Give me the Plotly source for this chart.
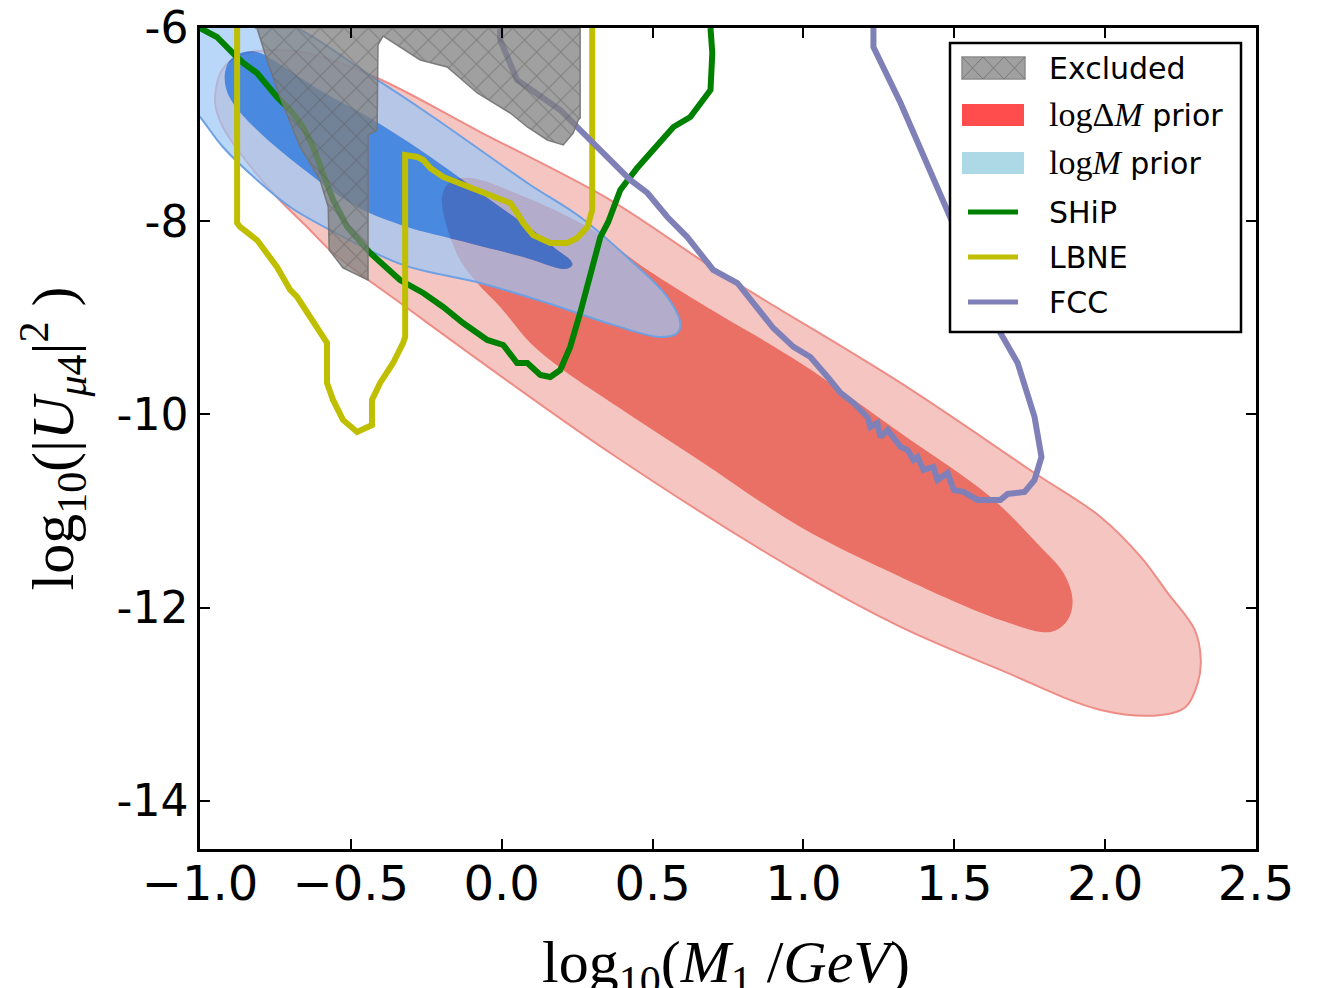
import plotly.graph_objects as go

# ---------------- data ----------------
# log(Delta M) prior, outer (95%) contour
red_outer_x = [-0.950, -0.927, -0.867, -0.758, -0.645, -0.413, -0.071, 0.360, 0.725, 1.322,
               1.766, 1.985, 2.118, 2.207, 2.297, 2.317, 2.307, 2.267, 2.187, 1.985, 1.653,
               1.322, 0.990, 0.360, -0.327, -0.559, -0.645, -0.758, -0.867, -0.924]
red_outer_y = [-6.776, -6.435, -6.280, -6.228, -6.259, -6.518, -7.077, -7.781, -8.536, -9.675,
               -10.607, -11.062, -11.476, -11.849, -12.232, -12.542, -12.780, -13.029, -13.112, -13.060, -12.646,
               -12.201, -11.642, -10.400, -8.868, -8.329, -8.060, -7.708, -7.294, -7.025]

# log(Delta M) prior, inner (68%) contour
red_inner_x = [-0.197, -0.171, -0.104, 0.061, 0.303, 0.459, 0.658, 0.990, 1.322, 1.620,
               1.786, 1.862, 1.892, 1.876, 1.819, 1.653, 1.322, 0.990, 0.658, 0.350,
               0.204, 0.095, -0.005, -0.081, -0.138, -0.171, -0.194]
red_inner_y = [-7.729, -7.594, -7.553, -7.729, -8.091, -8.453, -8.847, -9.468, -10.193, -10.855,
               -11.373, -11.642, -11.921, -12.128, -12.253, -12.128, -11.683, -11.166, -10.482, -9.851,
               -9.540, -9.261, -8.888, -8.640, -8.402, -8.164, -7.905]

# log(M) prior, outer contour (runs past the left / top edges of the frame)
blue_outer_x = [-1.100, -0.768, -0.413, -0.237, -0.071, 0.095, 0.260, 0.426, 0.549, 0.592,
                0.582, 0.526, 0.370, 0.151, -0.071, -0.327, -0.569, -0.701, -0.811, -0.924,
                -1.000, -1.050, -1.100]
blue_outer_y = [-5.800, -5.876, -6.538, -6.901, -7.263, -7.625, -7.957, -8.402, -8.785, -9.054,
                -9.157, -9.199, -9.074, -8.847, -8.640, -8.453, -8.091, -7.853, -7.573, -7.232,
                -6.921, -6.745, -6.600]

# log(M) prior, inner contour
blue_inner_x = [-0.917, -0.900, -0.867, -0.811, -0.758, -0.592, -0.436, -0.260, -0.038, 0.128,
                0.184, 0.227, 0.234, 0.211, 0.071, -0.148, -0.313, -0.479, -0.645, -0.811,
                -0.891, -0.914]
blue_inner_y = [-6.455, -6.331, -6.259, -6.248, -6.331, -6.663, -6.932, -7.284, -7.781, -8.153,
                -8.298, -8.402, -8.453, -8.495, -8.371, -8.195, -8.060, -7.853, -7.491, -7.056,
                -6.776, -6.621]

# excluded region
excl_x = [-0.818, 0.260, 0.260, 0.254, 0.237, 0.204, 0.151, 0.085, 0.028, -0.081,
          -0.181, -0.270, -0.393, -0.410, -0.413, -0.443, -0.443, -0.493, -0.526, -0.546,
          -0.572, -0.575, -0.602, -0.668, -0.735, -0.778, -0.811]
excl_y = [-6.000, -6.000, -6.932, -6.952, -7.087, -7.211, -7.159, -7.025, -6.880, -6.673,
          -6.404, -6.331, -6.083, -6.176, -7.056, -7.108, -8.609, -8.536, -8.484, -8.402,
          -8.298, -7.853, -7.573, -7.232, -6.714, -6.331, -6.000]

# SHiP sensitivity
ship_x = [-1.000, -0.944, -0.891, -0.857, -0.811, -0.745, -0.701, -0.658, -0.625, -0.592,
          -0.559, -0.512, -0.436, -0.337, -0.260, -0.194, -0.128, -0.048, 0.005, 0.051,
          0.085, 0.128, 0.161, 0.194, 0.227, 0.260, 0.294, 0.327, 0.353, 0.393,
          0.449, 0.509, 0.569, 0.625, 0.692, 0.698, 0.692]
ship_y = [-6.000, -6.093, -6.259, -6.362, -6.466, -6.714, -6.849, -7.025, -7.232, -7.501,
          -7.781, -8.060, -8.329, -8.609, -8.743, -8.888, -9.054, -9.230, -9.282, -9.468,
          -9.468, -9.592, -9.613, -9.540, -9.302, -8.950, -8.578, -8.164, -8.008, -7.677,
          -7.449, -7.242, -7.025, -6.921, -6.642, -6.259, -6.000]

# LBNE sensitivity
lbne_x = [-0.877, -0.877, -0.867, -0.811, -0.745, -0.701, -0.678, -0.645, -0.592, -0.579,
          -0.579, -0.559, -0.526, -0.479, -0.430, -0.430, -0.403, -0.360, -0.327, -0.320,
          -0.320, -0.280, -0.260, -0.237, -0.194, -0.128, -0.038, 0.028, 0.051, 0.071,
          0.104, 0.161, 0.217, 0.250, 0.284, 0.300, 0.300]
lbne_y = [-6.000, -8.019, -8.060, -8.195, -8.474, -8.712, -8.785, -8.950, -9.199, -9.261,
          -9.675, -9.851, -10.058, -10.182, -10.110, -9.851, -9.675, -9.468, -9.261, -9.199,
          -7.315, -7.335, -7.366, -7.449, -7.542, -7.625, -7.729, -7.812, -7.915, -8.019,
          -8.143, -8.226, -8.226, -8.174, -8.060, -7.884, -6.000]

# FCC sensitivity
fcc_x = [-0.005, -0.005, 0.051, 0.128, 0.194, 0.260, 0.303, 0.350, 0.426, 0.483,
         0.549, 0.615, 0.701, 0.781, 0.834, 0.900, 0.967, 1.023, 1.080, 1.123,
         1.166, 1.212, 1.222, 1.245, 1.255, 1.279, 1.322, 1.345, 1.365, 1.378,
         1.398, 1.431, 1.444, 1.478, 1.498, 1.531, 1.577, 1.653, 1.677, 1.733,
         1.766, 1.789, 1.766, 1.710, 1.653, 1.570, 1.478, 1.355, 1.322, 1.232, 1.232]
fcc_y = [-6.000, -6.124, -6.538, -6.714, -6.849, -7.056, -7.190, -7.335, -7.573, -7.708,
         -7.957, -8.164, -8.505, -8.640, -8.847, -9.106, -9.302, -9.406, -9.613, -9.778,
         -9.882, -10.027, -10.130, -10.089, -10.234, -10.161, -10.337, -10.369, -10.472, -10.441,
         -10.576, -10.545, -10.679, -10.607, -10.783, -10.803, -10.886, -10.886, -10.824, -10.803,
         -10.679, -10.441, -10.027, -9.468, -9.157, -8.557, -7.915, -7.025, -6.776, -6.197, -6.000]

x_ticks = [-1.0, -0.5, 0.0, 0.5, 1.0, 1.5, 2.0, 2.5]
x_ticklabels = ["\u22121.0", "\u22120.5", "0.0", "0.5", "1.0", "1.5", "2.0", "2.5"]
y_ticks = [-6, -8, -10, -12, -14]
y_ticklabels = ["-6", "-8", "-10", "-12", "-14"]

x_title = "log<sub>10</sub>(<i>M</i><sub>1</sub> /<i>GeV</i>)"
y_title = "log<sub>10</sub>(|<i>U</i><sub><i>\u03bc</i>4</sub>|<sup>2</sup> )"

SERIF_SPAN = '<span style="font-family:Liberation Serif;font-size:34px">'
legend_labels = ["Excluded",
                 SERIF_SPAN + 'log\u0394<i>M</i></span> prior',
                 SERIF_SPAN + 'log<i>M</i></span> prior',
                 "SHiP", "LBNE", "FCC"]

# ---------------- styles ----------------
RED_LIGHT = "rgb(245,198,193)"
RED_EDGE = "rgb(238,140,134)"
RED_DARK = "rgb(234,112,101)"
BLUE_LIGHT = "rgba(155,198,245,0.7)"
BLUE_EDGE = "rgb(110,160,228)"
BLUE_DARK = "rgba(0,112,237,0.7)"
GREEN = "rgb(0,128,0)"
YELLOW = "rgb(191,191,0)"
FCC_C = "rgb(128,128,184)"
SMOOTH = dict(shape="spline", smoothing=1.0)

fig = go.Figure()

def closed(v):
    return list(v) + [v[0]]

# red contours
fig.add_trace(go.Scatter(x=closed(red_outer_x), y=closed(red_outer_y), mode="lines",
                         fill="toself", fillcolor=RED_LIGHT,
                         line=dict(color=RED_EDGE, width=2, **SMOOTH), hoverinfo="skip"))
fig.add_trace(go.Scatter(x=closed(red_inner_x), y=closed(red_inner_y), mode="lines",
                         fill="toself", fillcolor=RED_DARK,
                         line=dict(width=0, color=RED_DARK, **SMOOTH), hoverinfo="skip"))
# blue outer band (outer loop with inner loop as a hole)
fig.add_trace(go.Scatter(x=blue_outer_x + [None] + closed(blue_inner_x)[::-1],
                         y=blue_outer_y + [None] + closed(blue_inner_y)[::-1],
                         mode="lines", fill="toself", fillcolor=BLUE_LIGHT,
                         line=dict(width=0, color="rgba(0,0,0,0)", **SMOOTH),
                         connectgaps=False, hoverinfo="skip"))
fig.add_trace(go.Scatter(x=closed(blue_inner_x), y=closed(blue_inner_y), mode="lines",
                         fill="toself", fillcolor=BLUE_DARK,
                         line=dict(width=0, color="rgba(0,0,0,0)", **SMOOTH), hoverinfo="skip"))
fig.add_trace(go.Scatter(x=closed(blue_outer_x), y=closed(blue_outer_y), mode="lines",
                         line=dict(color=BLUE_EDGE, width=2, **SMOOTH), hoverinfo="skip"))

# sensitivity curves
fig.add_trace(go.Scatter(x=ship_x, y=ship_y, mode="lines",
                         line=dict(color=GREEN, width=6), hoverinfo="skip"))
fig.add_trace(go.Scatter(x=lbne_x, y=lbne_y, mode="lines",
                         line=dict(color=YELLOW, width=6), hoverinfo="skip"))
fig.add_trace(go.Scatter(x=fcc_x, y=fcc_y, mode="lines",
                         line=dict(color=FCC_C, width=6), hoverinfo="skip"))

# excluded region (hatched, semi-transparent)
fig.add_trace(go.Scatter(x=closed(excl_x), y=closed(excl_y), mode="lines",
                         fill="toself", fillcolor="rgba(128,128,128,0.75)",
                         fillpattern=dict(shape="x", size=17, solidity=0.12,
                                          fgcolor="rgba(85,85,85,0.9)",
                                          bgcolor="rgba(128,128,128,0.75)"),
                         line=dict(color="rgba(115,115,115,0.9)", width=1.5),
                         hoverinfo="skip"))

# ---------------- layout ----------------
L, T, PW, PH = 200, 28, 1056, 821

def pxx(v):
    return (v - L) / PW

def pxy(v):
    return (T + PH - v) / PH

shapes = []
# legend frame
shapes.append(dict(type="rect", xref="paper", yref="paper", layer="above",
                   x0=pxx(950), x1=pxx(1241), y0=pxy(332), y1=pxy(43),
                   fillcolor="white", line=dict(color="black", width=2.5)))
# hatched swatch
shapes.append(dict(type="rect", xref="paper", yref="paper", layer="above",
                   x0=pxx(962), x1=pxx(1025), y0=pxy(79), y1=pxy(57),
                   fillcolor="rgb(160,160,160)", line=dict(color="rgb(140,140,140)", width=1.5)))
path = ""
for c0 in (962, 983, 1004):
    c1 = c0 + 21
    path += f"M{pxx(c0)},{pxy(57)} L{pxx(c1)},{pxy(79)} M{pxx(c0)},{pxy(79)} L{pxx(c1)},{pxy(57)} "
shapes.append(dict(type="path", xref="paper", yref="paper", layer="above", path=path,
                   line=dict(color="rgb(120,120,120)", width=1)))
shapes.append(dict(type="rect", xref="paper", yref="paper", layer="above",
                   x0=pxx(962), x1=pxx(1024), y0=pxy(126), y1=pxy(104),
                   fillcolor="rgb(255,76,76)", line=dict(width=0)))
shapes.append(dict(type="rect", xref="paper", yref="paper", layer="above",
                   x0=pxx(962), x1=pxx(1024), y0=pxy(174), y1=pxy(152),
                   fillcolor="rgb(173,216,230)", line=dict(width=0)))
for yy, col in ((212, GREEN), (257, YELLOW), (302, FCC_C)):
    shapes.append(dict(type="line", xref="paper", yref="paper", layer="above",
                       x0=pxx(968), x1=pxx(1018), y0=pxy(yy), y1=pxy(yy),
                       line=dict(color=col, width=5)))

annotations = []
for lab, yy in zip(legend_labels, (68, 115, 163, 212, 257, 302)):
    annotations.append(dict(text=lab, xref="paper", yref="paper", x=pxx(1047), y=pxy(yy),
                            xanchor="left", yanchor="middle", showarrow=False,
                            font=dict(family="DejaVu Sans", size=30, color="black")))
# x-axis title, placed so it runs off the bottom edge as in the reference
annotations.append(dict(text=x_title, xref="paper", yref="paper", x=pxx(726), y=pxy(966),
                        xanchor="center", yanchor="middle", showarrow=False,
                        font=dict(family="Liberation Serif", size=60, color="black")))

fig.update_layout(
    width=1325, height=988,
    margin=dict(l=L, r=1325 - L - PW, t=T, b=988 - T - PH, autoexpand=False),
    paper_bgcolor="white", plot_bgcolor="white",
    showlegend=False,
    shapes=shapes, annotations=annotations,
    xaxis=dict(range=[-1.0, 2.5], tickvals=x_ticks, ticktext=x_ticklabels,
               ticks="inside", ticklen=10, tickwidth=1.5, tickcolor="black",
               showline=True, linecolor="black", linewidth=2.5, mirror="allticks",
               showgrid=False, zeroline=False, automargin=False,
               ticklabelstandoff=-9,
               tickfont=dict(family="DejaVu Sans", size=48, color="black")),
    yaxis=dict(range=[-14.5, -6.0], tickvals=y_ticks, ticktext=y_ticklabels,
               ticks="inside", ticklen=10, tickwidth=1.5, tickcolor="black",
               showline=True, linecolor="black", linewidth=2.5, mirror="allticks",
               showgrid=False, zeroline=False, automargin=False,
               ticklabelstandoff=0,
               tickfont=dict(family="DejaVu Sans", size=44, color="black"),
               title=dict(text=y_title,
                          font=dict(family="Liberation Serif", size=60, color="black"),
                          standoff=24)),
)

fig.write_html("out.html")
